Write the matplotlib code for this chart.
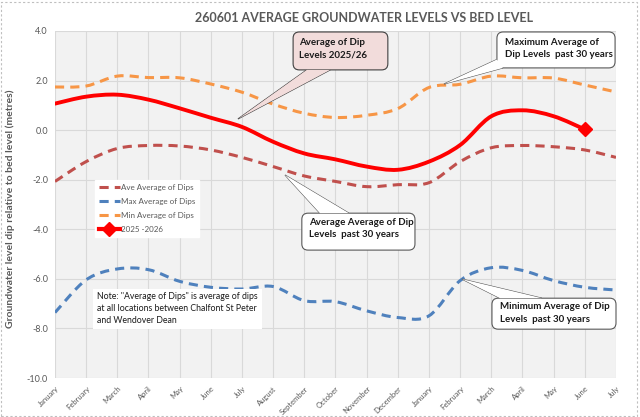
import numpy as np
import matplotlib
matplotlib.use('Agg')
import matplotlib.pyplot as plt
from matplotlib.path import Path
from matplotlib.patches import PathPatch, FancyBboxPatch, Polygon, Rectangle
from matplotlib.lines import Line2D

plt.rcParams['font.family'] = ['Lato', 'DejaVu Sans']

months = ['January', 'February', 'March', 'April', 'May', 'June', 'July',
          'August', 'September', 'October', 'November', 'December',
          'January', 'February', 'March', 'April', 'May', 'June', 'July']

# average of dips, metres relative to bed level
ave_dips = [-2.07, -1.27, -0.74, -0.62, -0.64, -0.80, -1.10, -1.47, -1.85, -2.07,
            -2.28, -2.20, -2.12, -1.27, -0.71, -0.62, -0.67, -0.80, -1.10]
max_dips = [-7.36, -6.04, -5.60, -5.63, -6.10, -6.34, -6.41, -6.31, -6.88, -6.92,
            -7.29, -7.56, -7.49, -6.07, -5.55, -5.66, -6.07, -6.34, -6.45]
min_dips = [1.74, 1.78, 2.18, 2.12, 2.11, 1.86, 1.53, 1.05, 0.68, 0.51,
            0.60, 0.87, 1.72, 1.85, 2.18, 2.11, 2.10, 1.82, 1.54]
dips_2025 = [1.07, 1.35, 1.43, 1.23, 0.88, 0.50, 0.13, -0.47, -0.94, -1.18,
             -1.47, -1.60, -1.27, -0.60, 0.56, 0.80, 0.56, 0.03]

GREY = '#595959'


def smooth_path(y):
    # excel style smoothed line: bezier through every point
    x = np.arange(len(y), dtype=float)
    y = np.asarray(y, dtype=float)
    n = len(y)
    verts = [(x[0], y[0])]
    codes = [Path.MOVETO]
    for i in range(n - 1):
        a = max(i - 1, 0)
        b = min(i + 2, n - 1)
        c1 = (x[i] + (x[i + 1] - x[a]) / 6, y[i] + (y[i + 1] - y[a]) / 6)
        c2 = (x[i + 1] - (x[b] - x[i]) / 6, y[i + 1] - (y[b] - y[i]) / 6)
        verts += [c1, c2, (x[i + 1], y[i + 1])]
        codes += [Path.CURVE4] * 3
    return Path(verts, codes)


def callout(ax, box, tip, base, text, tpos, fc='white', ec=GREY):
    x0, y0, x1, y1 = box
    ax.add_patch(Polygon([base[0], tip, base[1]], closed=True, fc=fc, ec=ec,
                         lw=0.8, zorder=5, clip_on=False))
    ax.add_patch(FancyBboxPatch((x0, y0), x1 - x0, y1 - y0,
                                boxstyle='round,pad=0,rounding_size=0.2',
                                mutation_aspect=1.26, fc=fc, ec=ec, lw=0.8,
                                zorder=6, clip_on=False))
    ax.add_patch(Polygon([base[0], tip, base[1]], closed=True, fc=fc, ec='none',
                         zorder=7, clip_on=False))
    ax.text(tpos[0], tpos[1], text, ha='left', va='top', fontsize=7,
            fontweight='bold', color='#1a1a1a', linespacing=1.45, zorder=8)


fig = plt.figure(figsize=(6.4, 4.17), dpi=100)
fig.patches.append(Rectangle((0.002, 0.003), 0.994, 0.993, transform=fig.transFigure,
                             fill=False, ec='#BFBFBF', lw=0.8, ls=(0, (2, 2))))
ax = fig.add_axes([0.0859, 0.0935, 0.8766, 0.8322])
ax.set_facecolor('#F2F2F2')

ax.add_patch(PathPatch(smooth_path(ave_dips), fill=False, ec='#C0504D', lw=2.2,
                       ls=(0, (3, 2)), capstyle='butt', zorder=3))
ax.add_patch(PathPatch(smooth_path(max_dips), fill=False, ec='#4F81BD', lw=2.2,
                       ls=(0, (3, 2)), capstyle='butt', zorder=3))
ax.add_patch(PathPatch(smooth_path(min_dips), fill=False, ec='#F79646', lw=2.2,
                       ls=(0, (3, 2)), capstyle='butt', zorder=3))
ax.add_patch(PathPatch(smooth_path(dips_2025), fill=False, ec='#FF0000', lw=2.8,
                       capstyle='round', zorder=4))
ax.plot([len(dips_2025) - 1], [dips_2025[-1]], marker='D', ms=7, color='#FF0000',
        ls='none', zorder=4)

ax.set_xlim(0, len(months) - 1)
ax.set_ylim(-10, 4)
ax.set_xticks(range(len(months)))
ax.set_xticklabels(months, rotation=45, ha='right', rotation_mode='anchor',
                   fontsize=5.5, color=GREY)
ax.set_yticks(np.arange(-10, 4.1, 2))
ax.set_yticklabels(['%.1f' % v for v in np.arange(-10, 4.1, 2)], fontsize=6.5, color=GREY)
ax.tick_params(length=0, pad=5)
ax.grid(True, color='#D9D9D9', lw=0.8)
ax.set_axisbelow(True)
for s in ax.spines.values():
    s.set_visible(False)

fig.text(0.569, 0.957, '260601 AVERAGE GROUNDWATER LEVELS VS BED LEVEL', ha='center',
         va='center', fontsize=9, fontweight='bold', color=GREY)
fig.text(0.016, 0.50, 'Groundwater level dip relative to bed level (metres)', rotation=90,
         ha='center', va='center', fontsize=7.5, fontweight='bold', color=GREY)

handles = [Line2D([], [], color='#C0504D', lw=2.2, ls=(0, (3, 2))),
           Line2D([], [], color='#4F81BD', lw=2.2, ls=(0, (3, 2))),
           Line2D([], [], color='#F79646', lw=2.2, ls=(0, (3, 2))),
           Line2D([], [], color='#FF0000', lw=3, marker='D', ms=7)]
labels = ['Ave Average of Dips', 'Max Average of Dips', 'Min Average of Dips', '2025 -2026']
leg = ax.legend(handles, labels, loc='upper left', bbox_to_anchor=(0.064, 0.582),
                fontsize=5.8, frameon=True, fancybox=False, framealpha=1,
                edgecolor='white', handlelength=2.6, handletextpad=0.1,
                labelspacing=0.85, borderpad=0.5, labelcolor=GREY)
leg.set_zorder(9)

callout(ax, (7.64, 2.43, 10.68, 3.96), (5.87, 0.45), [(8.08, 2.43), (8.83, 2.43)],
        'Average of Dip\nLevels 2025/26', (7.82, 3.72), fc='#F2DCDB', ec='#404040')
callout(ax, (14.18, 2.51, 17.97, 3.96), (12.48, 1.86), [(14.18, 2.85), (14.37, 2.51)],
        'Maximum Average of\nDip Levels  past 30 years', (14.44, 3.72))
callout(ax, (7.92, -4.84, 11.55, -3.35), (7.38, -1.81), [(8.50, -3.35), (9.43, -3.35)],
        'Average Average of Dip\nLevels  past 30 years', (8.15, -3.55))
callout(ax, (14.02, -8.03, 18.0, -6.78), (13.06, -6.01), [(14.28, -6.78), (15.62, -6.78)],
        'Minimum Average of Dip\nLevels  past 30 years', (14.28, -6.95))

ax.text(1.35, -6.55, 'Note: "Average of Dips" is average of dips\nat all locations between Chalfont St Peter\nand Wendover Dean',
        ha='left', va='top', fontsize=6.3, color='#1a1a1a', linespacing=1.4, zorder=8,
        bbox=dict(boxstyle='square,pad=0.45', fc='white', ec='none'))

fig.savefig('out.png', dpi=100)
